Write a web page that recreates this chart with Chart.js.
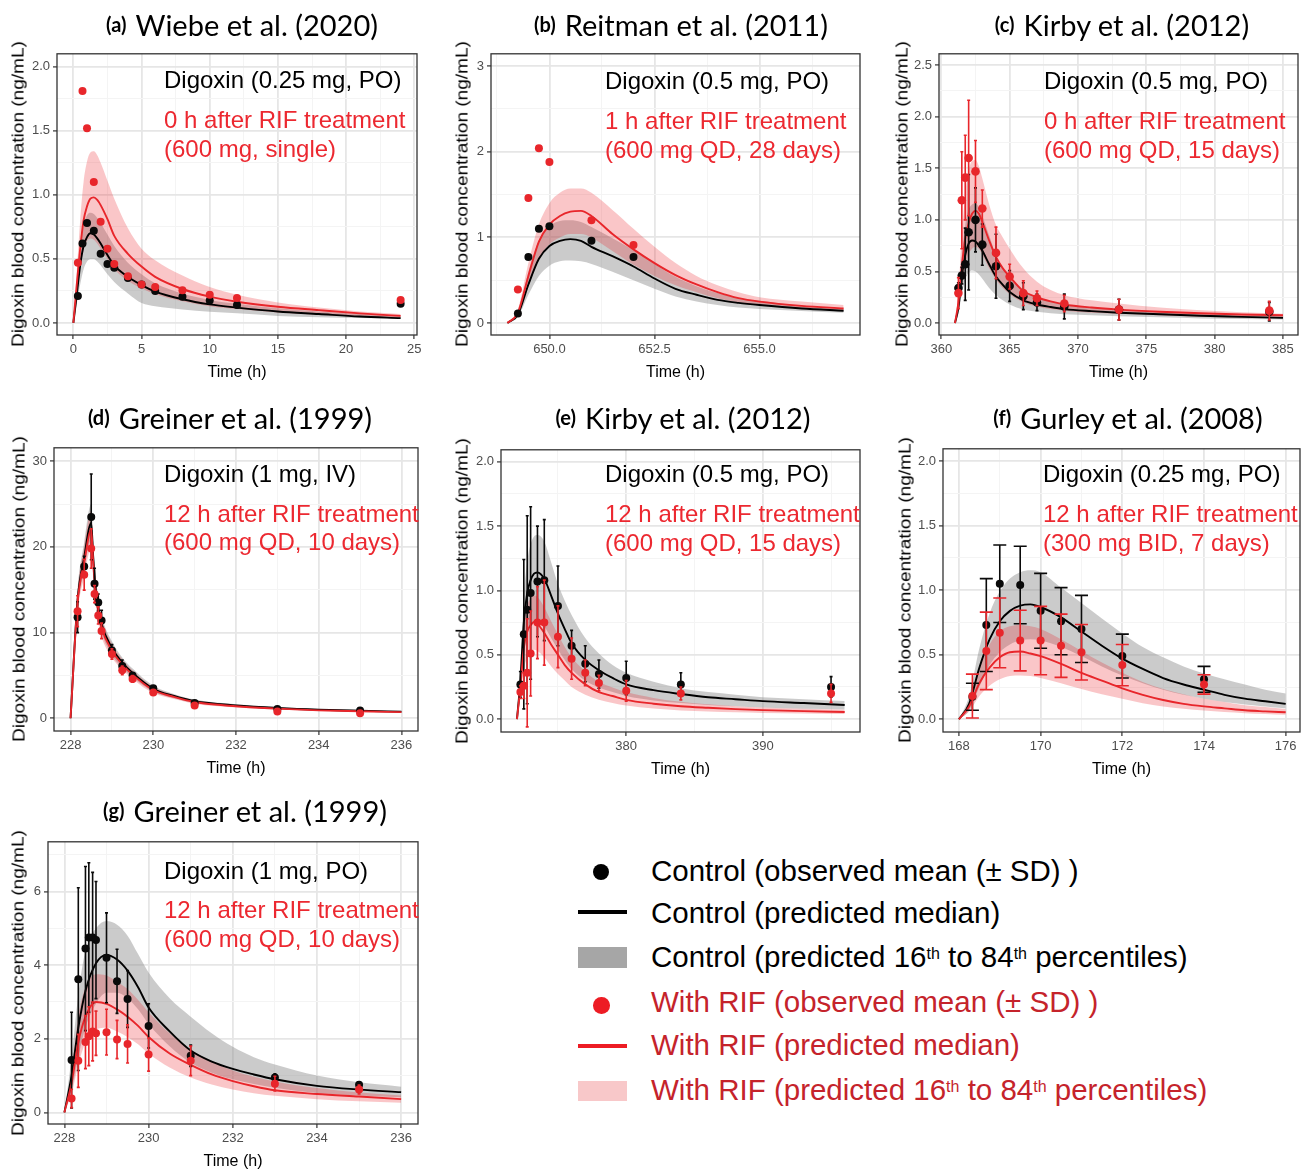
<!DOCTYPE html>
<html>
<head>
<meta charset="utf-8">
<script src="https://cdn.jsdelivr.net/npm/chart.js@4.4.1/dist/chart.umd.min.js"></script>
<style>
  html, body { margin:0; padding:0; background:#fff; }
  body { width:1301px; height:1169px; overflow:hidden; position:relative; font-family:'Liberation Sans', Arial, Helvetica, sans-serif; }
  canvas.cv { position:absolute; }
  .t { position:absolute; white-space:nowrap; }
  .title { font-family: Lato, 'Open Sans', sans-serif; font-size:29px; color:#000; transform:translateX(-50%); line-height:34px; }
  .title b { font-size:20px; font-weight:700; margin-right:9px; position:relative; top:-4px; }
  .note { font-size:24px; line-height:28px; }
  .ytitle { font-size:16px; line-height:20px; color:#000; transform-origin:50% 50%; }
  .xtitle { font-size:16px; line-height:20px; color:#000; transform:translateX(-50%); }
  .leg { font-size:29.5px; line-height:34px; }
  .leg sup { font-size:16px; vertical-align:top; position:relative; top:-3px; }
  .sym { position:absolute; }
</style>
</head>
<body>
<script>
// ================= DATA =================
// ---- (a) Wiebe et al. (2020)
const aPredT   = [0, 0.25, 0.5, 0.75, 1, 1.25, 1.5, 1.75, 2, 2.5, 3, 4, 5, 6, 8, 10, 12, 15, 18, 21, 24];
const aCtrlMed = [0, 0.22, 0.45, 0.60, 0.67, 0.70, 0.69, 0.66, 0.62, 0.53, 0.45, 0.36, 0.295, 0.245, 0.185, 0.145, 0.12, 0.09, 0.07, 0.05, 0.038];
const aCtrlLo  = [0, 0.15, 0.30, 0.42, 0.48, 0.50, 0.50, 0.48, 0.45, 0.38, 0.32, 0.23, 0.155, 0.13, 0.105, 0.088, 0.075, 0.055, 0.045, 0.038, 0.033];
const aCtrlHi  = [0, 0.28, 0.58, 0.76, 0.84, 0.86, 0.85, 0.82, 0.78, 0.69, 0.60, 0.47, 0.38, 0.31, 0.23, 0.18, 0.15, 0.115, 0.09, 0.07, 0.055];
const aRifMed  = [0, 0.30, 0.58, 0.80, 0.91, 0.97, 0.98, 0.96, 0.92, 0.81, 0.68, 0.54, 0.44, 0.36, 0.265, 0.205, 0.166, 0.127, 0.10, 0.075, 0.055];
const aRifLo   = [0, 0.21, 0.42, 0.57, 0.64, 0.66, 0.65, 0.62, 0.58, 0.50, 0.42, 0.33, 0.27, 0.225, 0.17, 0.13, 0.108, 0.082, 0.064, 0.048, 0.037];
const aRifHi   = [0, 0.40, 0.80, 1.10, 1.26, 1.33, 1.34, 1.31, 1.25, 1.11, 0.97, 0.74, 0.58, 0.49, 0.37, 0.28, 0.22, 0.16, 0.12, 0.09, 0.07];
const aObsT    = [0.33, 0.67, 1, 1.5, 2, 2.5, 3, 4, 5, 6, 8, 10, 12, 24];
const aCtrlObs = [0.21, 0.62, 0.78, 0.72, 0.54, 0.46, 0.43, 0.35, 0.30, 0.25, 0.205, 0.175, 0.14, 0.15];
const aRifObs  = [0.47, 1.81, 1.52, 1.10, 0.79, 0.58, 0.46, 0.365, 0.30, 0.28, 0.255, 0.22, 0.195, 0.18];
const aXTicks  = [0, 5, 10, 15, 20, 25];
const aXLabels = ['0', '5', '10', '15', '20', '25'];
const aYTicks  = [0, 0.5, 1, 1.5, 2];
const aYLabels = ['0.0', '0.5', '1.0', '1.5', '2.0'];
const aNotes   = ['Digoxin (0.25 mg, PO)', '0 h after RIF treatment', '(600 mg, single)'];

// ---- (b) Reitman et al. (2011)
const bPredT   = [649, 649.25, 649.5, 649.75, 650, 650.25, 650.5, 650.75, 651, 651.5, 652, 652.5, 653, 653.5, 654, 654.5, 655, 656, 657];
const bCtrlMed = [0, 0.10, 0.45, 0.75, 0.90, 0.96, 0.98, 0.96, 0.89, 0.78, 0.66, 0.52, 0.40, 0.33, 0.27, 0.235, 0.21, 0.17, 0.144];
const bCtrlLo  = [0, 0.07, 0.33, 0.55, 0.67, 0.72, 0.73, 0.72, 0.69, 0.60, 0.50, 0.40, 0.31, 0.25, 0.21, 0.18, 0.165, 0.14, 0.12];
const bCtrlHi  = [0, 0.14, 0.60, 0.97, 1.13, 1.19, 1.20, 1.18, 1.12, 0.99, 0.85, 0.69, 0.54, 0.43, 0.35, 0.29, 0.26, 0.20, 0.17];
const bRifMed  = [0, 0.12, 0.55, 0.95, 1.15, 1.25, 1.30, 1.31, 1.25, 1.04, 0.86, 0.70, 0.56, 0.45, 0.36, 0.29, 0.25, 0.20, 0.17];
const bRifLo   = [0, 0.09, 0.42, 0.75, 0.92, 1.00, 1.04, 1.04, 1.00, 0.84, 0.68, 0.55, 0.44, 0.36, 0.29, 0.24, 0.21, 0.17, 0.145];
const bRifHi   = [0, 0.16, 0.70, 1.15, 1.40, 1.52, 1.57, 1.57, 1.52, 1.32, 1.10, 0.89, 0.70, 0.55, 0.44, 0.36, 0.30, 0.25, 0.21];
const bObsT    = [649.25, 649.5, 649.75, 650, 651, 652];
const bCtrlObs = [0.11, 0.77, 1.10, 1.13, 0.96, 0.77];
const bRifObs  = [0.39, 1.46, 2.04, 1.88, 1.20, 0.91];
const bXTicks  = [650, 652.5, 655];
const bXLabels = ['650.0', '652.5', '655.0'];
const bYTicks  = [0, 1, 2, 3];
const bYLabels = ['0', '1', '2', '3'];
const bNotes   = ['Digoxin (0.5 mg, PO)', '1 h after RIF treatment', '(600 mg QD, 28 days)'];

// ---- (c) Kirby et al. (2012), 0 h
const cPredT   = [361, 361.25, 361.5, 361.75, 362, 362.25, 362.5, 362.75, 363, 363.5, 364, 364.5, 365, 366, 367, 368, 369, 371, 373, 376, 379, 382, 385];
const cCtrlMed = [0, 0.15, 0.45, 0.66, 0.77, 0.80, 0.79, 0.75, 0.70, 0.57, 0.45, 0.37, 0.30, 0.22, 0.18, 0.155, 0.135, 0.115, 0.10, 0.085, 0.07, 0.06, 0.05];
const cCtrlLo  = [0, 0.09, 0.28, 0.42, 0.49, 0.51, 0.50, 0.47, 0.43, 0.34, 0.27, 0.22, 0.18, 0.13, 0.11, 0.095, 0.085, 0.075, 0.065, 0.055, 0.045, 0.04, 0.035];
const cCtrlHi  = [0, 0.22, 0.65, 0.95, 1.10, 1.15, 1.16, 1.12, 1.04, 0.85, 0.66, 0.53, 0.44, 0.32, 0.25, 0.21, 0.18, 0.15, 0.13, 0.11, 0.09, 0.08, 0.07];
const cRifMed  = [0, 0.20, 0.55, 0.82, 0.97, 1.06, 1.09, 1.06, 0.98, 0.80, 0.64, 0.53, 0.45, 0.31, 0.25, 0.21, 0.18, 0.15, 0.13, 0.11, 0.095, 0.083, 0.075];
const cRifLo   = [0, 0.13, 0.38, 0.56, 0.67, 0.72, 0.74, 0.72, 0.66, 0.53, 0.42, 0.34, 0.28, 0.20, 0.16, 0.135, 0.12, 0.10, 0.09, 0.075, 0.062, 0.055, 0.048];
const cRifHi   = [0, 0.30, 0.85, 1.25, 1.48, 1.57, 1.58, 1.52, 1.40, 1.15, 0.95, 0.83, 0.72, 0.53, 0.40, 0.32, 0.27, 0.22, 0.19, 0.15, 0.125, 0.105, 0.09];
const cObsT    = [361.25, 361.5, 361.75, 362, 362.5, 363, 364, 365, 366, 367, 369, 373, 384];
const cCtrlObs = [0.34, 0.46, 0.57, 0.88, 1.00, 0.76, 0.55, 0.36, 0.26, 0.20, 0.16, 0.13, 0.11];
const cCtrlSD  = [0.05, 0.08, 0.35, 0.56, 0.31, 0.20, 0.31, 0.15, 0.13, 0.08, 0.12, 0.10, 0.09];
const cRifObs  = [0.29, 1.19, 1.41, 1.60, 1.47, 1.11, 0.68, 0.45, 0.29, 0.24, 0.19, 0.13, 0.12];
const cRifSD   = [0.15, 0.47, 0.41, 0.56, 0.30, 0.18, 0.25, 0.12, 0.12, 0.07, 0.08, 0.10, 0.09];
const cXTicks  = [360, 365, 370, 375, 380, 385];
const cXLabels = ['360', '365', '370', '375', '380', '385'];
const cYTicks  = [0, 0.5, 1, 1.5, 2, 2.5];
const cYLabels = ['0.0', '0.5', '1.0', '1.5', '2.0', '2.5'];
const cNotes   = ['Digoxin (0.5 mg, PO)', '0 h after RIF treatment', '(600 mg QD, 15 days)'];

// ---- (d) Greiner et al. (1999), IV
const dPredT   = [228, 228.17, 228.33, 228.5, 228.55, 228.6, 228.67, 228.75, 229, 229.25, 229.5, 230, 230.5, 231, 232, 233, 234, 235, 236];
const dCtrlMed = [0, 13.8, 18.8, 22.8, 18.6, 15.5, 13.0, 11.0, 8.2, 6.5, 5.3, 3.45, 2.6, 2.0, 1.5, 1.2, 1.0, 0.88, 0.78];
const dCtrlLo  = [0, 12.6, 17.2, 20.8, 16.8, 14.0, 11.8, 10.0, 7.4, 5.9, 4.8, 3.1, 2.35, 1.8, 1.35, 1.08, 0.9, 0.8, 0.7];
const dCtrlHi  = [0, 15.0, 20.5, 25.0, 20.5, 17.0, 14.2, 12.0, 9.0, 7.1, 5.8, 3.8, 2.85, 2.2, 1.65, 1.32, 1.1, 0.97, 0.86];
const dRifMed  = [0, 13.5, 18.2, 22.0, 18.0, 15.0, 12.6, 10.6, 7.9, 6.3, 5.1, 3.3, 2.5, 1.9, 1.4, 1.13, 0.93, 0.82, 0.72];
const dRifLo   = [0, 12.2, 16.5, 19.8, 16.2, 13.5, 11.1, 9.5, 7.1, 5.7, 4.6, 2.95, 2.25, 1.7, 1.26, 1.02, 0.84, 0.74, 0.65];
const dRifHi   = [0, 14.8, 20.0, 24.2, 19.8, 16.5, 13.6, 11.7, 8.7, 6.9, 5.6, 3.65, 2.75, 2.1, 1.55, 1.25, 1.03, 0.9, 0.8];
const dObsT    = [228.17, 228.33, 228.5, 228.58, 228.67, 228.75, 229, 229.25, 229.5, 230, 231, 233, 235];
const dCtrlObs = [11.8, 17.7, 23.5, 15.7, 13.5, 11.4, 7.9, 6.1, 5.0, 3.5, 1.8, 1.1, 0.9];
const dCtrlSD  = [1.8, 1.2, 5.0, 1.8, 1.0, 1.2, 0.7, 0.7, 0.3, 0.3, 0.2, 0.1, 0.1];
const dRifObs  = [12.5, 16.75, 19.8, 14.5, 12.0, 10.2, 7.5, 5.6, 4.6, 3.0, 1.5, 0.8, 0.6];
const dRifSD   = [1.8, 1.8, 2.3, 1.0, 1.0, 0.9, 0.6, 0.5, 0.4, 0.3, 0.2, 0.1, 0.1];
const dXTicks  = [228, 230, 232, 234, 236];
const dXLabels = ['228', '230', '232', '234', '236'];
const dYTicks  = [0, 10, 20, 30];
const dYLabels = ['0', '10', '20', '30'];
const dNotes   = ['Digoxin (1 mg, IV)', '12 h after RIF treatment', '(600 mg QD, 10 days)'];

// ---- (e) Kirby et al. (2012), 12 h
const ePredT   = [372, 372.25, 372.5, 372.75, 373, 373.25, 373.5, 374, 374.5, 375, 375.5, 376, 377, 378, 379, 380, 382, 384, 386, 388, 390, 393, 396];
const eCtrlMed = [0, 0.30, 0.75, 0.98, 1.08, 1.13, 1.14, 1.09, 0.96, 0.82, 0.70, 0.59, 0.46, 0.38, 0.32, 0.27, 0.225, 0.195, 0.17, 0.155, 0.14, 0.125, 0.11];
const eCtrlLo  = [0, 0.20, 0.50, 0.66, 0.73, 0.76, 0.76, 0.72, 0.63, 0.54, 0.46, 0.39, 0.30, 0.245, 0.21, 0.18, 0.145, 0.125, 0.11, 0.10, 0.09, 0.08, 0.075];
const eCtrlHi  = [0, 0.40, 0.95, 1.22, 1.36, 1.42, 1.43, 1.38, 1.22, 1.05, 0.92, 0.81, 0.63, 0.51, 0.42, 0.36, 0.29, 0.24, 0.21, 0.19, 0.17, 0.155, 0.14];
const eRifMed  = [0, 0.25, 0.55, 0.68, 0.73, 0.755, 0.74, 0.67, 0.58, 0.50, 0.42, 0.36, 0.27, 0.21, 0.18, 0.15, 0.12, 0.10, 0.088, 0.078, 0.07, 0.062, 0.056];
const eRifLo   = [0, 0.17, 0.38, 0.48, 0.52, 0.54, 0.53, 0.48, 0.41, 0.35, 0.30, 0.25, 0.19, 0.15, 0.125, 0.105, 0.082, 0.068, 0.06, 0.053, 0.048, 0.043, 0.04];
const eRifHi   = [0, 0.33, 0.72, 0.88, 0.94, 0.96, 0.95, 0.87, 0.76, 0.66, 0.56, 0.48, 0.37, 0.29, 0.245, 0.21, 0.165, 0.135, 0.115, 0.10, 0.09, 0.08, 0.072];
const eObsT    = [372.25, 372.5, 372.75, 373, 373.5, 374, 375, 376, 377, 378, 380, 384, 395];
const eCtrlObs = [0.27, 0.66, 0.85, 0.98, 1.07, 1.08, 0.88, 0.57, 0.43, 0.35, 0.32, 0.27, 0.25];
const eCtrlSD  = [0.10, 0.58, 0.73, 0.67, 0.43, 0.47, 0.31, 0.12, 0.14, 0.11, 0.13, 0.09, 0.08];
const eRifObs  = [0.21, 0.26, 0.36, 0.51, 0.75, 0.75, 0.64, 0.47, 0.36, 0.28, 0.22, 0.20, 0.20];
const eRifSD   = [0.05, 0.10, 0.42, 0.33, 0.28, 0.33, 0.24, 0.16, 0.10, 0.06, 0.08, 0.05, 0.07];
const eXTicks  = [380, 390];
const eXLabels = ['380', '390'];
const eYTicks  = [0, 0.5, 1, 1.5, 2];
const eYLabels = ['0.0', '0.5', '1.0', '1.5', '2.0'];
const eNotes   = ['Digoxin (0.5 mg, PO)', '12 h after RIF treatment', '(600 mg QD, 15 days)'];

// ---- (f) Gurley et al. (2008)
const fPredT   = [168, 168.25, 168.5, 168.75, 169, 169.25, 169.5, 169.75, 170, 170.5, 171, 171.5, 172, 172.5, 173, 173.5, 174, 174.5, 175, 175.5, 176];
const fCtrlMed = [0, 0.12, 0.40, 0.62, 0.76, 0.84, 0.88, 0.89, 0.87, 0.79, 0.68, 0.57, 0.47, 0.39, 0.32, 0.27, 0.23, 0.19, 0.16, 0.14, 0.12];
const fCtrlLo  = [0, 0.07, 0.25, 0.42, 0.52, 0.58, 0.61, 0.62, 0.61, 0.56, 0.49, 0.41, 0.34, 0.28, 0.23, 0.19, 0.16, 0.135, 0.115, 0.10, 0.085];
const fCtrlHi  = [0, 0.18, 0.55, 0.82, 0.99, 1.09, 1.14, 1.155, 1.14, 1.02, 0.90, 0.78, 0.665, 0.56, 0.48, 0.41, 0.355, 0.31, 0.27, 0.23, 0.20];
const fRifMed  = [0, 0.10, 0.28, 0.40, 0.48, 0.52, 0.525, 0.51, 0.49, 0.43, 0.36, 0.30, 0.24, 0.19, 0.15, 0.12, 0.10, 0.085, 0.07, 0.062, 0.055];
const fRifLo   = [0, 0.06, 0.18, 0.26, 0.31, 0.335, 0.34, 0.335, 0.32, 0.28, 0.235, 0.195, 0.16, 0.125, 0.10, 0.082, 0.068, 0.057, 0.048, 0.042, 0.036];
const fRifHi   = [0, 0.14, 0.40, 0.58, 0.68, 0.72, 0.73, 0.72, 0.70, 0.62, 0.53, 0.44, 0.36, 0.29, 0.235, 0.195, 0.16, 0.135, 0.11, 0.095, 0.08];
const fObsT    = [168.33, 168.67, 169, 169.5, 170, 170.5, 171, 172, 174];
const fCtrlObs = [0.175, 0.73, 1.05, 1.04, 0.84, 0.76, 0.70, 0.49, 0.31];
const fCtrlSD  = [0.105, 0.36, 0.30, 0.30, 0.29, 0.26, 0.26, 0.17, 0.10];
const fRifObs  = [0.18, 0.53, 0.67, 0.61, 0.61, 0.57, 0.52, 0.42, 0.27];
const fRifSD   = [0.17, 0.30, 0.27, 0.235, 0.265, 0.245, 0.215, 0.16, 0.075];
const fXTicks  = [168, 170, 172, 174, 176];
const fXLabels = ['168', '170', '172', '174', '176'];
const fYTicks  = [0, 0.5, 1, 1.5, 2];
const fYLabels = ['0.0', '0.5', '1.0', '1.5', '2.0'];
const fNotes   = ['Digoxin (0.25 mg, PO)', '12 h after RIF treatment', '(300 mg BID, 7 days)'];

// ---- (g) Greiner et al. (1999), PO
const gPredT   = [228, 228.17, 228.33, 228.5, 228.75, 229, 229.25, 229.5, 229.75, 230, 230.5, 231, 231.5, 232, 232.5, 233, 234, 235, 236];
const gCtrlMed = [0, 1.0, 2.3, 3.3, 4.05, 4.28, 4.15, 3.85, 3.4, 2.85, 2.2, 1.68, 1.38, 1.18, 1.03, 0.9, 0.72, 0.62, 0.55];
const gCtrlLo  = [0, 0.6, 1.5, 2.3, 2.95, 3.25, 3.25, 3.1, 2.8, 2.4, 1.8, 1.35, 1.08, 0.9, 0.77, 0.67, 0.53, 0.46, 0.41];
const gCtrlHi  = [0, 1.5, 3.2, 4.4, 5.0, 5.2, 5.1, 4.8, 4.3, 3.8, 3.1, 2.6, 2.15, 1.78, 1.5, 1.3, 1.0, 0.82, 0.7];
const gRifMed  = [0, 0.8, 1.9, 2.6, 3.0, 2.95, 2.8, 2.6, 2.35, 2.05, 1.6, 1.29, 1.03, 0.85, 0.71, 0.6, 0.5, 0.43, 0.36];
const gRifLo   = [0, 0.5, 1.3, 1.9, 2.25, 2.3, 2.2, 2.05, 1.85, 1.6, 1.22, 0.95, 0.76, 0.62, 0.52, 0.45, 0.36, 0.3, 0.26];
const gRifHi   = [0, 1.1, 2.6, 3.4, 3.75, 3.72, 3.55, 3.35, 3.05, 2.72, 2.15, 1.7, 1.38, 1.14, 0.97, 0.84, 0.66, 0.54, 0.46];
const gObsT    = [228.17, 228.33, 228.5, 228.58, 228.67, 228.75, 229, 229.25, 229.5, 230, 231, 233, 235];
const gCtrlObs = [1.42, 3.62, 4.45, 4.75, 4.75, 4.68, 4.2, 3.56, 3.08, 2.35, 1.54, 0.95, 0.75];
const gCtrlSD  = [1.3, 2.48, 2.23, 2.03, 1.77, 1.59, 1.22, 0.87, 0.77, 0.6, 0.29, 0.1, 0.08];
const gRifObs  = [0.38, 1.40, 1.91, 2.07, 2.2, 2.15, 2.18, 1.98, 1.86, 1.57, 1.40, 0.78, 0.62];
const gRifSD   = [0.25, 0.72, 0.72, 0.8, 0.8, 0.6, 0.62, 0.52, 0.52, 0.45, 0.4, 0.2, 0.12];
const gXTicks  = [228, 230, 232, 234, 236];
const gXLabels = ['228', '230', '232', '234', '236'];
const gYTicks  = [0, 2, 4, 6];
const gYLabels = ['0', '2', '4', '6'];
const gNotes   = ['Digoxin (1 mg, PO)', '12 h after RIF treatment', '(600 mg QD, 10 days)'];

// ---- shared labels
const xAxisTitle = 'Time (h)';
const yAxisTitle = 'Digoxin blood concentration (ng/mL)';
const legendLabels = [
  'Control (observed mean (± SD) )',
  'Control (predicted median)',
  'Control (predicted 16<sup>th</sup> to 84<sup>th</sup> percentiles)',
  'With RIF (observed mean (± SD) )',
  'With RIF (predicted median)',
  'With RIF (predicted 16<sup>th</sup> to 84<sup>th</sup> percentiles)'
];

// ================= STYLE / LAYOUT =================
const FONT = "'Liberation Sans', Arial, Helvetica, sans-serif";
const BLACK = '#000000';
const RED = '#E8262B';
const NOTE_RED = '#EC2830';
const LEG_RED = '#C5232B';
const GREY_BAND = 'rgba(140,140,140,0.45)';
const PINK_BAND = 'rgba(237,28,36,0.25)';

const panels = [
  { letter:'(a)', title:'Wiebe et al. (2020)', notes:aNotes, rect:[57,53,417,335], xr:[-1.2,25.2], yr:[-0.094,2.101],
    xt:aXTicks, xl:aXLabels, yt:aYTicks, yl:aYLabels, yOff:39, tc:[242,25], nx:164, ny:[80,120,149], r:4, cap:0,
    P:[aPredT,aCtrlMed,aCtrlLo,aCtrlHi,aRifMed,aRifLo,aRifHi], O:[aObsT,aCtrlObs,null,aRifObs,null] },
  { letter:'(b)', title:'Reitman et al. (2011)', notes:bNotes, rect:[491,53,860,335], xr:[648.61,657.39], yr:[-0.14,3.144],
    xt:bXTicks, xl:bXLabels, yt:bYTicks, yl:bYLabels, yOff:29, tc:[681,25], nx:605, ny:[81,121,150], r:4, cap:0,
    P:[bPredT,bCtrlMed,bCtrlLo,bCtrlHi,bRifMed,bRifLo,bRifHi], O:[bObsT,bCtrlObs,null,bRifObs,null] },
  { letter:'(c)', title:'Kirby et al. (2012)', notes:cNotes, rect:[939,53,1298,335], xr:[359.83,386.1], yr:[-0.116,2.61],
    xt:cXTicks, xl:cXLabels, yt:cYTicks, yl:cYLabels, yOff:37, tc:[1122,25], nx:1044, ny:[81,121,150], r:4.3, cap:3,
    P:[cPredT,cCtrlMed,cCtrlLo,cCtrlHi,cRifMed,cRifLo,cRifHi], O:[cObsT,cCtrlObs,cCtrlSD,cRifObs,cRifSD] },
  { letter:'(d)', title:'Greiner et al. (1999)', notes:dNotes, rect:[54,447,418,731], xr:[227.6,236.4], yr:[-1.48,31.56],
    xt:dXTicks, xl:dXLabels, yt:dYTicks, yl:dYLabels, yOff:35, tc:[230,418], nx:164, ny:[474,514,542], r:4, cap:3,
    P:[dPredT,dCtrlMed,dCtrlLo,dCtrlHi,dRifMed,dRifLo,dRifHi], O:[dObsT,dCtrlObs,dCtrlSD,dRifObs,dRifSD] },
  { letter:'(e)', title:'Kirby et al. (2012)', notes:eNotes, rect:[501,449,860,732], xr:[370.83,397.12], yr:[-0.1,2.093],
    xt:eXTicks, xl:eXLabels, yt:eYTicks, yl:eYLabels, yOff:39, tc:[683,418], nx:605, ny:[474,514,543], r:4, cap:3,
    P:[ePredT,eCtrlMed,eCtrlLo,eCtrlHi,eRifMed,eRifLo,eRifHi], O:[eObsT,eCtrlObs,eCtrlSD,eRifObs,eRifSD] },
  { letter:'(f)', title:'Gurley et al. (2008)', notes:fNotes, rect:[943,448,1300,732], xr:[167.61,176.35], yr:[-0.098,2.095],
    xt:fXTicks, xl:fXLabels, yt:fYTicks, yl:fYLabels, yOff:38, tc:[1128,418], nx:1043, ny:[474,514,543], r:4, cap:13,
    P:[fPredT,fCtrlMed,fCtrlLo,fCtrlHi,fRifMed,fRifLo,fRifHi], O:[fObsT,fCtrlObs,fCtrlSD,fRifObs,fRifSD] },
  { letter:'(g)', title:'Greiner et al. (1999)', notes:gNotes, rect:[48,841,418,1124], xr:[227.61,236.4], yr:[-0.315,7.35],
    xt:gXTicks, xl:gXLabels, yt:gYTicks, yl:gYLabels, yOff:30, tc:[245,811], nx:164, ny:[871,910,939], r:4, cap:3,
    P:[gPredT,gCtrlMed,gCtrlLo,gCtrlHi,gRifMed,gRifLo,gRifHi], O:[gObsT,gCtrlObs,gCtrlSD,gRifObs,gRifSD] }
];

// ================= PLUGINS =================
const errorBarPlugin = {
  id: 'errorBars',
  beforeDatasetDraw(chart, args) {
    const ds = chart.data.datasets[args.index];
    if (!ds.sd) return;
    const xs = chart.scales.x, ys = chart.scales.y, ctx = chart.ctx;
    const cap = ds.capWidth || 0;
    ctx.save();
    ctx.strokeStyle = ds.pointBackgroundColor;
    ctx.lineWidth = 1.6;
    ds.data.forEach((p, i) => {
      const sd = ds.sd[i];
      if (sd == null) return;
      const x = xs.getPixelForValue(p.x);
      const yLo = ys.getPixelForValue(p.y - sd);
      const yHi = ys.getPixelForValue(p.y + sd);
      ctx.beginPath();
      ctx.moveTo(x, yLo); ctx.lineTo(x, yHi);
      if (cap > 0) {
        ctx.moveTo(x - cap / 2, yLo); ctx.lineTo(x + cap / 2, yLo);
        ctx.moveTo(x - cap / 2, yHi); ctx.lineTo(x + cap / 2, yHi);
      }
      ctx.stroke();
    });
    ctx.restore();
  }
};
const framePlugin = {
  id: 'frame',
  afterDatasetsDraw(chart) {
    const a = chart.chartArea, ctx = chart.ctx;
    ctx.save();
    ctx.strokeStyle = '#333333';
    ctx.lineWidth = 1.3;
    ctx.strokeRect(a.left, a.top, a.right - a.left, a.bottom - a.top);
    ctx.restore();
  }
};

// ================= BUILD =================
function addText(cls, html, left, top, extraStyle) {
  const d = document.createElement('div');
  d.className = 't ' + cls;
  d.innerHTML = html;
  d.style.left = left + 'px';
  d.style.top = top + 'px';
  if (extraStyle) Object.assign(d.style, extraStyle);
  document.body.appendChild(d);
  return d;
}

function withMinor(major, lo, hi) {
  const step = major[1] - major[0];
  const out = major.map(v => ({ value: v, minor: false }));
  [major[0] - step / 2, ...major.map(v => v + step / 2)].forEach(v => {
    if (v > lo && v < hi) out.push({ value: v, minor: true });
  });
  return out.sort((p, q) => p.value - q.value);
}

function axis(r, majors, labels, isX) {
  return {
    type: 'linear', min: r[0], max: r[1],
    afterFit(s) { if (isX) s.height = 50; else s.width = 52; },
    afterBuildTicks(s) { s.ticks = withMinor(majors, r[0], r[1]); },
    ticks: {
      autoSkip: false, maxRotation: 0, minRotation: 0, padding: 3,
      color: '#4D4D4D', font: { family: FONT, size: 13 },
      callback(v, i, ticks) {
        if (ticks[i] && ticks[i].minor) return '';
        const k = majors.indexOf(v);
        return k >= 0 ? labels[k] : '';
      }
    },
    grid: {
      drawTicks: true, tickLength: 4,
      color: c => (c.tick && c.tick.minor) ? '#F4F4F4' : '#E6E6E6',
      lineWidth: c => (c.tick && c.tick.minor) ? 1 : 1.8,
      tickColor: c => (c.tick && c.tick.minor) ? 'rgba(0,0,0,0)' : '#333333',
      tickWidth: 1.2
    },
    border: { display: false },
    title: { display: false }
  };
}

function pts(t, v) { return t.map((x, i) => ({ x: x, y: v[i] })); }

panels.forEach((p, idx) => {
  const [x0, y0, x1, y1] = p.rect;
  const padTop = 10, padRight = 12, yW = 52, xH = 50;
  const cv = document.createElement('canvas');
  cv.className = 'cv';
  const W = (x1 - x0) + yW + padRight, H = (y1 - y0) + padTop + xH;
  cv.width = W; cv.height = H;
  cv.style.width = W + 'px'; cv.style.height = H + 'px';
  cv.style.left = (x0 - yW) + 'px';
  cv.style.top = (y0 - padTop) + 'px';
  document.body.appendChild(cv);

  const [pt, cm, cl, ch, rm, rl, rh] = p.P;
  const [ot, co, csd, ro, rsd] = p.O;
  const band = (data, order, fill, color) => ({
    data: pts(pt, data), order: order, fill: fill, backgroundColor: color,
    borderWidth: 0, pointRadius: 0, cubicInterpolationMode: 'monotone'
  });
  const datasets = [
    band(cl, 8, false, 'rgba(0,0,0,0)'),
    band(ch, 7, '-1', GREY_BAND),
    band(rl, 6, false, 'rgba(0,0,0,0)'),
    band(rh, 5, '-1', PINK_BAND),
    { data: pts(pt, cm), order: 4, borderColor: BLACK, borderWidth: 1.9, pointRadius: 0, fill: false, cubicInterpolationMode: 'monotone' },
    { data: pts(pt, rm), order: 3, borderColor: RED, borderWidth: 1.9, pointRadius: 0, fill: false, cubicInterpolationMode: 'monotone' },
    { data: pts(ot, co), order: 2, showLine: false, pointRadius: p.r, pointBorderWidth: 0, pointBackgroundColor: '#0A0A0A', pointBorderColor: '#0A0A0A', sd: csd, capWidth: p.cap, fill: false },
    { data: pts(ot, ro), order: 1, showLine: false, pointRadius: p.r, pointBorderWidth: 0, pointBackgroundColor: RED, pointBorderColor: RED, sd: rsd, capWidth: p.cap, fill: false }
  ];

  new Chart(cv, {
    type: 'line',
    data: { datasets: datasets },
    options: {
      responsive: false, animation: false, devicePixelRatio: 1,
      layout: { padding: { top: padTop, right: padRight, left: 0, bottom: 0 }, autoPadding: false },
      plugins: { legend: { display: false }, tooltip: { enabled: false } },
      events: [],
      scales: { x: axis(p.xr, p.xt, p.xl, true), y: axis(p.yr, p.yt, p.yl, false) }
    },
    plugins: [errorBarPlugin, framePlugin]
  });

  // titles and notes
  addText('title', '<b>' + p.letter + '</b>' + p.title, p.tc[0], p.tc[1] - 17);
  addText('note', p.notes[0], p.nx, p.ny[0] - 14, { color: '#000' });
  addText('note', p.notes[1], p.nx, p.ny[1] - 14, { color: NOTE_RED });
  addText('note', p.notes[2], p.nx, p.ny[2] - 14, { color: NOTE_RED });
  // axis titles
  addText('xtitle', xAxisTitle, (x0 + x1) / 2, y1 + 37 - 10);
  const yt = addText('ytitle', yAxisTitle, 0, 0);
  const w = yt.offsetWidth;
  yt.style.left = (x0 - p.yOff - w / 2) + 'px';
  yt.style.top = ((y0 + y1) / 2 - 10) + 'px';
  yt.style.transform = 'rotate(-90deg) scaleX(1.19)';
});

// ================= LEGEND =================
const legRows = [871.5, 914, 958, 1003, 1046, 1091];
function sym(style) {
  const d = document.createElement('div');
  d.className = 'sym';
  Object.assign(d.style, style);
  document.body.appendChild(d);
}
sym({ left: '593px', top: '864px', width: '16px', height: '16px', borderRadius: '50%', background: '#000' });
sym({ left: '578px', top: '910px', width: '49px', height: '3.5px', background: '#000' });
sym({ left: '578px', top: '947px', width: '49px', height: '21px', background: '#A6A6A6' });
sym({ left: '593px', top: '997px', width: '16.5px', height: '16.5px', borderRadius: '50%', background: '#ED1C24' });
sym({ left: '578px', top: '1044px', width: '49px', height: '3.5px', background: '#ED1C24' });
sym({ left: '578px', top: '1081px', width: '49px', height: '20px', background: '#F8C8C9' });
legendLabels.forEach((txt, i) => {
  addText('leg', txt, 651, legRows[i] - 18, { color: i < 3 ? '#000' : LEG_RED });
});
</script>
</body>
</html>
